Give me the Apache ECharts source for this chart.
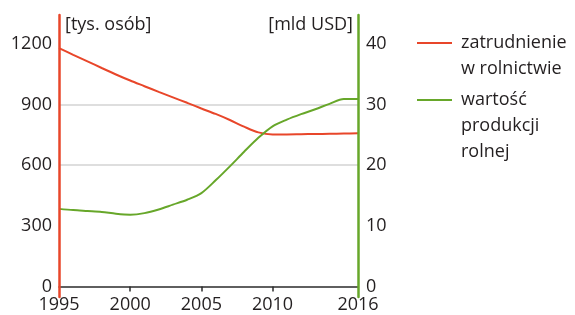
<!DOCTYPE html>
<html>
<head>
<meta charset="utf-8">
<script src="https://cdn.jsdelivr.net/npm/echarts@6/dist/echarts.min.js"></script>
<style>
  html, body { margin: 0; padding: 0; background: #fff; }
  #chart { width: 575px; height: 315px; }
</style>
</head>
<body>
<div id="chart"></div>
<script>
const years = [1995, 1996, 1997, 1998, 1999, 2000, 2001, 2002, 2003, 2004, 2005,
  2006, 2007, 2008, 2009, 2010, 2011, 2012, 2013, 2014, 2015, 2016];
// thousand persons
const employment = [1178, 1145, 1113, 1080, 1048, 1018, 990, 962, 935, 908, 880,
  853, 823, 790, 762, 752, 752, 753, 754, 755, 756, 757];
// bln USD
const production = [12.8, 12.6, 12.45, 12.3, 12.0, 11.85, 12.1, 12.7, 13.5, 14.3, 15.4,
  17.5, 19.8, 22.2, 24.5, 26.4, 27.5, 28.4, 29.2, 30.1, 30.9, 30.9];

const xTickLabels = [1995, 2000, 2005, 2010, 2016];
const leftTicks = [0, 300, 600, 900, 1200];
const rightTicks = [0, 10, 20, 30, 40];

const seriesNames = ['zatrudnienie\nw rolnictwie', 'warto\u015b\u0107\nprodukcji\nrolnej'];
const RED = '#e8462a';
const GREEN = '#67a72a';
const FONT = '"Open Sans", sans-serif';
const TXT = '#231f20';

const pairs = (vals) => years.map((y, i) => [y, vals[i]]);
const plain = (v) => String(v);

// legend text is centred on the icon, so pad with empty lines to put the first line level with it
const legendText = { fontSize: 18, lineHeight: 26, color: TXT, fontFamily: FONT, padding: [0, 0, 0, 4] };

const chart = echarts.init(document.getElementById('chart'));

chart.setOption({
  animation: false,
  backgroundColor: '#fff',
  textStyle: { fontFamily: FONT },
  grid: [
    // plot area, bottom edge is the zero line
    { left: 59, right: 217, top: 15, bottom: 28.4 },
    // only carries the coloured y axis lines, which run a little below zero
    { left: 59, right: 217, top: 15, bottom: 18 }
  ],
  legend: [
    {
      data: [seriesNames[0]],
      formatter: (name) => '\n' + name,
      orient: 'vertical', left: 417, top: 4, padding: 0,
      icon: 'rect', itemWidth: 35, itemHeight: 2,
      textStyle: legendText
    },
    {
      data: [seriesNames[1]],
      formatter: (name) => '\n\n' + name,
      orient: 'vertical', left: 417, top: 35, padding: 0,
      icon: 'rect', itemWidth: 35, itemHeight: 2,
      textStyle: legendText
    }
  ],
  xAxis: [
    {
      type: 'value',
      gridIndex: 0,
      min: 1995,
      max: 2016,
      z: 3,
      axisLine: { show: true, onZero: false, lineStyle: { color: '#2b2b2b', width: 1.5 } },
      axisTick: { show: true, length: 5, customValues: [2000, 2005, 2010], lineStyle: { color: '#2b2b2b', width: 1.5 } },
      axisLabel: { customValues: xTickLabels, formatter: plain, fontSize: 18, color: TXT, margin: 9, fontFamily: FONT },
      splitLine: { show: false }
    },
    { type: 'value', gridIndex: 1, min: 0, max: 1, show: false }
  ],
  yAxis: [
    {
      type: 'value',
      gridIndex: 0,
      position: 'left',
      min: 0,
      max: 1341.8,
      name: '[tys. os\u00f3b]',
      nameLocation: 'end',
      nameGap: -10,
      nameTextStyle: { align: 'left', verticalAlign: 'middle', padding: [0, 0, 0, 6], fontSize: 18, color: TXT, fontFamily: FONT },
      axisLine: { show: false },
      axisTick: { show: false, customValues: [300, 600, 900, 1200] },
      axisLabel: { customValues: leftTicks, formatter: plain, fontSize: 18, color: TXT, margin: 7, fontFamily: FONT },
      splitLine: { show: true, showMinLine: false, showMaxLine: false, lineStyle: { color: '#d3d3d3', width: 1.5 } }
    },
    {
      type: 'value',
      gridIndex: 0,
      position: 'right',
      min: 0,
      max: 44.727,
      name: '[mld USD]',
      nameLocation: 'end',
      nameGap: -10,
      nameTextStyle: { align: 'right', verticalAlign: 'middle', padding: [0, 5, 0, 0], fontSize: 18, color: TXT, fontFamily: FONT },
      axisLine: { show: false },
      axisTick: { show: false, customValues: rightTicks },
      axisLabel: { customValues: rightTicks, formatter: plain, fontSize: 18, color: TXT, margin: 8, fontFamily: FONT },
      splitLine: { show: false }
    },
    {
      type: 'value', gridIndex: 1, position: 'left', min: 0, max: 1, z: 4,
      axisLine: { show: true, onZero: false, lineStyle: { color: RED, width: 2.5 } },
      axisTick: { show: false }, axisLabel: { show: false }, splitLine: { show: false }
    },
    {
      type: 'value', gridIndex: 1, position: 'right', min: 0, max: 1, z: 4,
      axisLine: { show: true, onZero: false, lineStyle: { color: GREEN, width: 2.5 } },
      axisTick: { show: false }, axisLabel: { show: false }, splitLine: { show: false }
    }
  ],
  series: [
    {
      name: seriesNames[0],
      type: 'line',
      xAxisIndex: 0,
      yAxisIndex: 0,
      data: pairs(employment),
      smooth: 0.3,
      symbol: 'none',
      lineStyle: { color: RED, width: 2 },
      itemStyle: { color: RED }
    },
    {
      name: seriesNames[1],
      type: 'line',
      xAxisIndex: 0,
      yAxisIndex: 1,
      data: pairs(production),
      smooth: 0.3,
      symbol: 'none',
      lineStyle: { color: GREEN, width: 2 },
      itemStyle: { color: GREEN }
    }
  ]
});
</script>
</body>
</html>
